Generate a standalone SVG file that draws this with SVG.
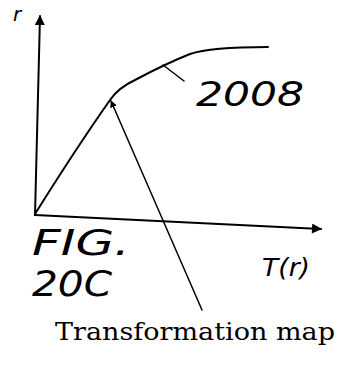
<svg xmlns="http://www.w3.org/2000/svg" width="343" height="367" viewBox="0 0 343 367">
<style>
.ln{fill:none;stroke:#000;stroke-width:2;stroke-linecap:round;stroke-linejoin:round}
.th{stroke-width:1.5}
.hw{font-family:"DejaVu Sans","Liberation Sans",sans-serif;font-style:italic;fill:#000}
.lb{font-family:"DejaVu Serif","Liberation Serif",serif;fill:#000}
</style>
<defs>
<marker id="ah" viewBox="0 0 10 10" refX="9" refY="5" markerWidth="7" markerHeight="7" markerUnits="userSpaceOnUse" orient="auto">
<path d="M0,0 L10,5 L0,10 Z" fill="#000"/>
</marker>
<marker id="ah2" viewBox="0 0 10 10" refX="9" refY="5" markerWidth="12" markerHeight="10" markerUnits="userSpaceOnUse" orient="auto">
<path d="M0,0 L10,5 L0,10 Z" fill="#000"/>
</marker>
</defs>
<g id="axes">
<path class="ln" d="M35,215 L40,16" marker-end="url(#ah2)"/>
<path class="ln" d="M35,215 L321,229" marker-end="url(#ah2)"/>
</g>
<g id="curve">
<path class="ln" d="M35,214 Q75,150 110,100 Q118,88 135,80 Q165,64 190,54 Q210,47 268,47"/>
</g>
<g id="connectors">
<path class="ln th" d="M163,65 L184,81"/>
<path class="ln th" d="M202,310 L111,101" marker-end="url(#ah)"/>
</g>
<g id="labels">
<text class="hw" x="13" y="21" font-size="20">r</text>
<text class="hw" x="196" y="106" font-size="34" textLength="108" lengthAdjust="spacingAndGlyphs">2008</text>
<text class="hw" x="32" y="255" font-size="36" textLength="98" lengthAdjust="spacingAndGlyphs">FIG.</text>
<text class="hw" x="32" y="296" font-size="36" textLength="80" lengthAdjust="spacingAndGlyphs">20C</text>
<text class="hw" x="262" y="276" font-size="24" textLength="48" lengthAdjust="spacingAndGlyphs">T(r)</text>
<text class="lb" x="55" y="340" font-size="25" textLength="280" lengthAdjust="spacingAndGlyphs">Transformation map</text>
</g>
</svg>
